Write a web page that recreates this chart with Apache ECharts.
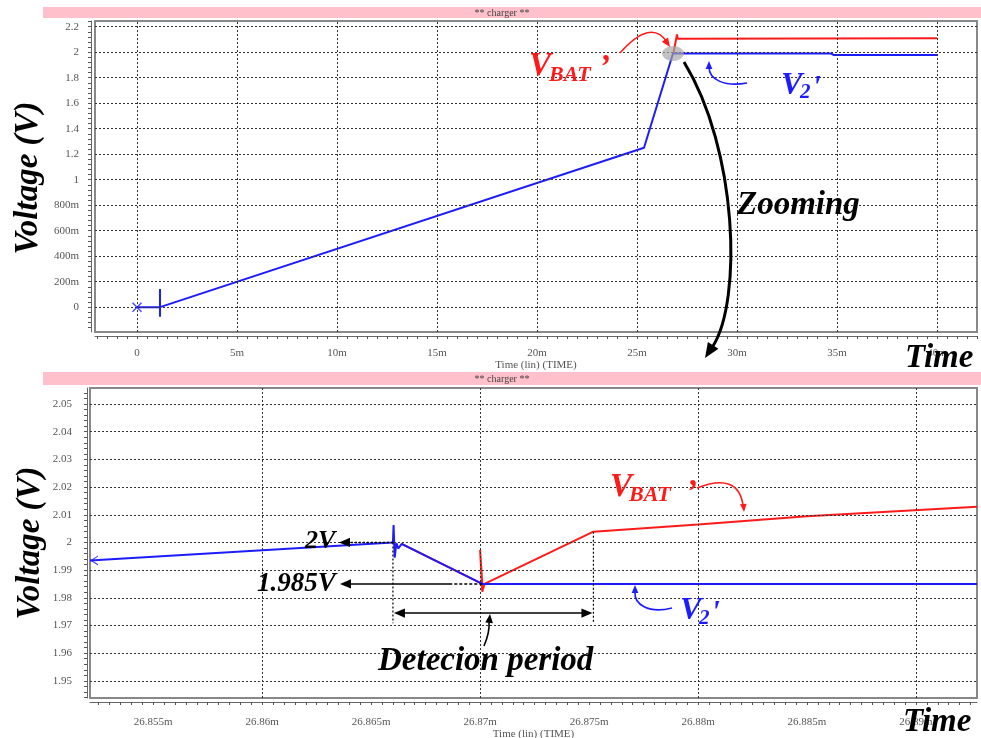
<!DOCTYPE html>
<html>
<head>
<meta charset="utf-8">
<script src="https://cdn.jsdelivr.net/npm/echarts@6/dist/echarts.min.js"></script>
<style>
html, body { margin: 0; padding: 0; background: #fff; }
#chart { width: 981px; height: 738px; }
</style>
</head>
<body>
<div id="chart"></div>
<script>
// ---- Overview: whole charging run (time in ms, voltage in V) ----
const overviewTimeTicks = [0, 5, 10, 15, 20, 25, 30, 35, 40];
const overviewVoltTicks = [0, 0.2, 0.4, 0.6, 0.8, 1, 1.2, 1.4, 1.6, 1.8, 2, 2.2];
const overviewV2 = [[0, 0], [1.15, 0], [25.35, 1.25], [26.8, 1.99], [34.7, 1.99], [34.85, 1.978], [40, 1.978]];
const overviewV2Step = [[1.15, 0.143], [1.15, -0.076]];
const overviewStart = [[0, 0]];
const overviewVbat = [[26.82, 1.99], [27.0, 2.14], [27.04, 2.105], [27.1, 2.11], [40, 2.11]];
const zoomCenter = [[26.8, 1.99]];

// ---- Detail: the detection window around 26.87 ms ----
const detailTimeTicks = [26.855, 26.86, 26.865, 26.87, 26.875, 26.88, 26.885, 26.89];
const detailVoltTicks = [1.95, 1.96, 1.97, 1.98, 1.99, 2, 2.01, 2.02, 2.03, 2.04, 2.05];
const detailV2 = [[26.8521, 1.9935], [26.866, 2.0], [26.86603, 2.0063], [26.86608, 1.9945], [26.86616, 1.9998],
  [26.86624, 1.9978], [26.8664, 1.9995], [26.8701, 1.985], [26.8928, 1.985]];
const detailVbat = [[26.8664, 1.9995], [26.8701, 1.985], [26.87, 1.9973],
  [26.8701, 1.9822], [26.8702, 1.985], [26.8752, 2.0039], [26.88, 2.0065], [26.885, 2.0095], [26.8928, 2.0129]];
const detailStart = [[26.8521, 1.9935]];
const detectionWindow = [26.866, 26.8752];
const detectionLevels = [2.0, 1.985];
const detectionBar = 1.9745;
const detectionFloor = 1.9708;

const SERIF = 'Liberation Serif';
const RED = '#ff1a1a';
const BLUE = '#1c1cff';

// all tick positions (major + minor) between lo and hi
function tickRange(majors, parts, lo, hi) {
  const step = (majors[1] - majors[0]) / parts;
  const out = [];
  const k0 = Math.ceil((lo - majors[0]) / step - 1e-9);
  const k1 = Math.floor((hi - majors[0]) / step + 1e-9);
  for (let k = k0; k <= k1; k++) out.push(+(majors[0] + k * step).toFixed(6));
  return out;
}

const labelStyle = { color: '#555', fontSize: 11, fontFamily: SERIF };
const axisLineStyle = { show: true, onZero: false, lineStyle: { color: '#666', width: 1 } };

function xAxisDef(idx, min, max, majors, parts, fmt, labelMargin, nameGap) {
  return {
    type: 'value', gridIndex: idx, min: min, max: max, offset: 4,
    axisLine: axisLineStyle,
    axisTick: { show: true, length: 3, customValues: tickRange(majors, parts, min, max), lineStyle: { color: '#555' } },
    axisLabel: Object.assign({ customValues: majors, formatter: fmt, margin: labelMargin }, labelStyle),
    splitLine: { show: false },
    name: 'Time (lin) (TIME)', nameLocation: 'middle', nameGap: nameGap,
    nameTextStyle: labelStyle
  };
}
function yAxisDef(idx, min, max, majors, parts, fmt, offset, labelMargin) {
  return {
    type: 'value', gridIndex: idx, min: min, max: max, offset: offset,
    axisLine: axisLineStyle,
    axisTick: { show: true, length: 3, customValues: tickRange(majors, parts, min, max), lineStyle: { color: '#555' } },
    axisLabel: Object.assign({ customValues: majors, formatter: fmt, margin: labelMargin }, labelStyle),
    splitLine: { show: false }
  };
}
function gridLines(idx, xTicks, yTicks) {
  return {
    type: 'line', xAxisIndex: idx, yAxisIndex: idx, data: [], silent: true, z: 1,
    markLine: {
      silent: true, symbol: ['none', 'none'], label: { show: false },
      lineStyle: { type: [2, 2], color: '#333', width: 1 },
      emphasis: { disabled: true },
      data: xTicks.map(v => ({ xAxis: v })).concat(yTicks.map(v => ({ yAxis: v })))
    }
  };
}
function trace(idx, data, color, z) {
  return {
    type: 'line', xAxisIndex: idx, yAxisIndex: idx, data: data, symbol: 'none',
    lineStyle: { color: color, width: 2 }, z: z, silent: true
  };
}

const fmtTime = v => (v === 0 ? '0' : parseFloat(v.toFixed(4)) + 'm');
const fmtVoltTop = v => (v === 0 ? '0' : v < 1 ? Math.round(v * 1000) + 'm' : String(parseFloat(v.toFixed(2))));
const fmtVoltDetail = v => String(parseFloat(v.toFixed(3)));

const option = {
  animation: false,
  backgroundColor: '#fff',
  textStyle: { fontFamily: SERIF },
  grid: [
    { left: 95, top: 21, width: 882, height: 311, show: true, borderColor: '#888', borderWidth: 2, backgroundColor: '#fff', outerBoundsMode: 'none', containLabel: false },
    { left: 90, top: 388, width: 887, height: 310, show: true, borderColor: '#888', borderWidth: 2, backgroundColor: '#fff', outerBoundsMode: 'none', containLabel: false }
  ],
  xAxis: [
    xAxisDef(0, -2.1, 42, overviewTimeTicks, 10, fmtTime, 12, 20),
    xAxisDef(1, 26.8521, 26.8928, detailTimeTicks, 10, fmtTime, 15, 24)
  ],
  yAxis: [
    yAxisDef(0, -0.195, 2.245, overviewVoltTicks, 5, fmtVoltTop, 4, 12),
    yAxisDef(1, 1.9438, 2.0558, detailVoltTicks, 5, fmtVoltDetail, 3, 15)
  ],
  series: [
    gridLines(0, overviewTimeTicks, overviewVoltTicks),
    gridLines(1, detailTimeTicks, detailVoltTicks),
    trace(0, overviewVbat, RED, 3),
    trace(0, overviewV2, BLUE, 4),
    trace(0, overviewV2Step, BLUE, 4),
    {
      type: 'scatter', xAxisIndex: 0, yAxisIndex: 0, data: overviewStart, z: 5, silent: true,
      symbol: 'path://M0,1L1,0L5,4L9,0L10,1L6,5L10,9L9,10L5,6L1,10L0,9L4,5Z',
      symbolSize: 10, itemStyle: { color: BLUE }
    },
    {
      type: 'scatter', xAxisIndex: 0, yAxisIndex: 0, data: zoomCenter, z: 6, silent: true,
      symbol: 'circle', symbolSize: [22, 15], itemStyle: { color: 'rgba(165,165,165,0.85)' }
    },
    trace(1, detailVbat, RED, 3),
    trace(1, detailV2, BLUE, 4),
    {
      type: 'scatter', xAxisIndex: 1, yAxisIndex: 1, data: detailStart, z: 5, silent: true,
      symbol: 'path://M10,0L0,5L10,10L10,8.6L2.6,5L10,1.4Z', symbolSize: [8, 10], symbolOffset: [4, 0],
      itemStyle: { color: BLUE }
    }
  ]
};

const chart = echarts.init(document.getElementById('chart'));
chart.setOption(option);

// ---- annotations ----
const px1 = pt => chart.convertToPixel({ gridIndex: 1 }, pt);

function head(tip, from, size, color) {
  const dx = tip[0] - from[0], dy = tip[1] - from[1];
  const len = Math.hypot(dx, dy) || 1;
  const ux = dx / len, uy = dy / len;
  const bx = tip[0] - ux * size, by = tip[1] - uy * size;
  const w = size * 0.42;
  return {
    type: 'polygon', z: 100, silent: true,
    shape: { points: [tip, [bx - uy * w, by + ux * w], [bx + uy * w, by - ux * w]] },
    style: { fill: color }
  };
}
function curve(p0, c1, c2, p3, color, width) {
  const shape = { x1: p0[0], y1: p0[1], x2: p3[0], y2: p3[1], cpx1: c1[0], cpy1: c1[1] };
  if (c2) { shape.cpx2 = c2[0]; shape.cpy2 = c2[1]; }
  return { type: 'bezierCurve', z: 100, silent: true, shape: shape, style: { stroke: color, lineWidth: width, fill: null } };
}
function seg(a, b, color, width, dash) {
  return {
    type: 'line', z: 100, silent: true,
    shape: { x1: a[0], y1: a[1], x2: b[0], y2: b[1] },
    style: { stroke: color, lineWidth: width, lineDash: dash || null }
  };
}
function label(text, x, y, size, color, extra) {
  return Object.assign({
    type: 'text', x: x, y: y, z: 110, silent: true,
    style: { text: text, font: 'italic bold ' + size + 'px "' + SERIF + '"', fill: color, align: 'left', verticalAlign: 'middle' }
  }, extra || {});
}
function vLabel(text, x, y) {
  return {
    type: 'text', x: x, y: y, z: 110, silent: true, rotation: Math.PI / 2,
    style: { text: text, font: 'italic bold 33px "' + SERIF + '"', fill: '#000', align: 'center', verticalAlign: 'middle' }
  };
}

const g = [];
// title bands
g.push({ type: 'rect', z: 50, silent: true, shape: { x: 43, y: 7, width: 938, height: 11 }, style: { fill: '#ffc0cb' } });
g.push({ type: 'rect', z: 50, silent: true, shape: { x: 43, y: 372, width: 938, height: 13 }, style: { fill: '#ffc0cb' } });
g.push({ type: 'text', x: 502, y: 13, z: 51, silent: true, style: { text: '** charger **', font: '10px "' + SERIF + '"', fill: '#444', align: 'center', verticalAlign: 'middle' } });
g.push({ type: 'text', x: 502, y: 379, z: 51, silent: true, style: { text: '** charger **', font: '10px "' + SERIF + '"', fill: '#444', align: 'center', verticalAlign: 'middle' } });

// axis titles
g.push(vLabel('Voltage (V)', 28, 178));
g.push(vLabel('Voltage (V)', 30, 543));
g.push(label('Time', 905, 358, 33, '#000'));
g.push(label('Time', 903, 722, 33, '#000'));

// overview trace names
g.push(label('V', 529, 66, 33, RED));
g.push(label('BAT', 549, 75, 22, RED));
g.push(label('\u2019', 599, 68, 33, RED));
g.push(label('V', 781, 86, 32, BLUE));
g.push(label('2', 800, 93, 21, BLUE));
g.push(label("'", 812, 89, 32, BLUE));

// overview arrows
g.push(curve([620, 53], [651, 18], null, [667, 42], RED, 1.6));
g.push(head([670, 47], [657, 28], 9, RED));
g.push(curve([747, 83], [725, 87], [709, 80], [709, 67], BLUE, 1.6));
g.push(head([709, 61], [709, 72], 8, BLUE));
g.push(curve([684, 62], [738, 150], [742, 300], [713, 346], '#000', 3));
g.push(head([705, 358], [718, 338], 15, '#000'));
g.push(label('Zooming', 737, 205, 33, '#000'));

// detail trace names
g.push(label('V', 610, 487, 33, RED));
g.push(label('BAT', 629, 495, 22, RED));
g.push(label('\u2019', 686, 493, 33, RED));
g.push(curve([697, 488], [738, 472], null, [743, 505], RED, 1.6));
g.push(head([744, 512], [743, 500], 8, RED));
g.push(label('V', 680, 611, 32, BLUE));
g.push(label('2', 699, 619, 21, BLUE));
g.push(label("'", 711, 614, 32, BLUE));
g.push(curve([672, 608], [648, 614], [634, 604], [635, 592], BLUE, 1.6));
g.push(head([635, 585], [635, 594], 8, BLUE));

// detection window markers
const a0 = px1([detectionWindow[0], detectionLevels[0]]);
const a0f = px1([detectionWindow[0], detectionFloor]);
const b0 = px1([detectionWindow[1], detailVbat[5][1]]);
const b0f = px1([detectionWindow[1], detectionFloor]);
const low = px1([detailV2[7][0], detectionLevels[1]]);
const barL = px1([detectionWindow[0], detectionBar]);
const barR = px1([detectionWindow[1], detectionBar]);
g.push(seg(a0, a0f, '#000', 1.2, [2, 2]));
g.push(seg(b0, b0f, '#000', 1.2, [2, 2]));
g.push(seg([barL[0] + 8, barL[1]], [barR[0] - 8, barR[1]], '#000', 1.6));
g.push(head([barL[0] + 1, barL[1]], [barL[0] + 10, barL[1]], 11, '#000'));
g.push(head([barR[0] - 1, barR[1]], [barR[0] - 10, barR[1]], 11, '#000'));
// 2 V marker
g.push(seg([a0[0], a0[1]], [348, a0[1]], '#000', 1.4, [2, 2]));
g.push(head([339, a0[1]], [350, a0[1]], 11, '#000'));
g.push(label('2V', 305, a0[1] - 1, 26, '#000'));
// 1.985 V marker
g.push(seg([low[0], low[1]], [452, low[1]], '#000', 1.4, [3, 2]));
g.push(seg([452, low[1]], [348, low[1]], '#000', 1.6));
g.push(head([340, low[1]], [350, low[1]], 11, '#000'));
g.push(label('1.985V', 257, low[1], 27, '#000'));
// detection period caption
g.push(curve([484, 646], [490, 632], null, [489, 621], '#000', 1.6));
g.push(head([490, 614], [489, 624], 9, '#000'));
g.push(label('Detecion period', 378, 661, 33, '#000'));

chart.setOption({ graphic: { elements: g } });
</script>
</body>
</html>
